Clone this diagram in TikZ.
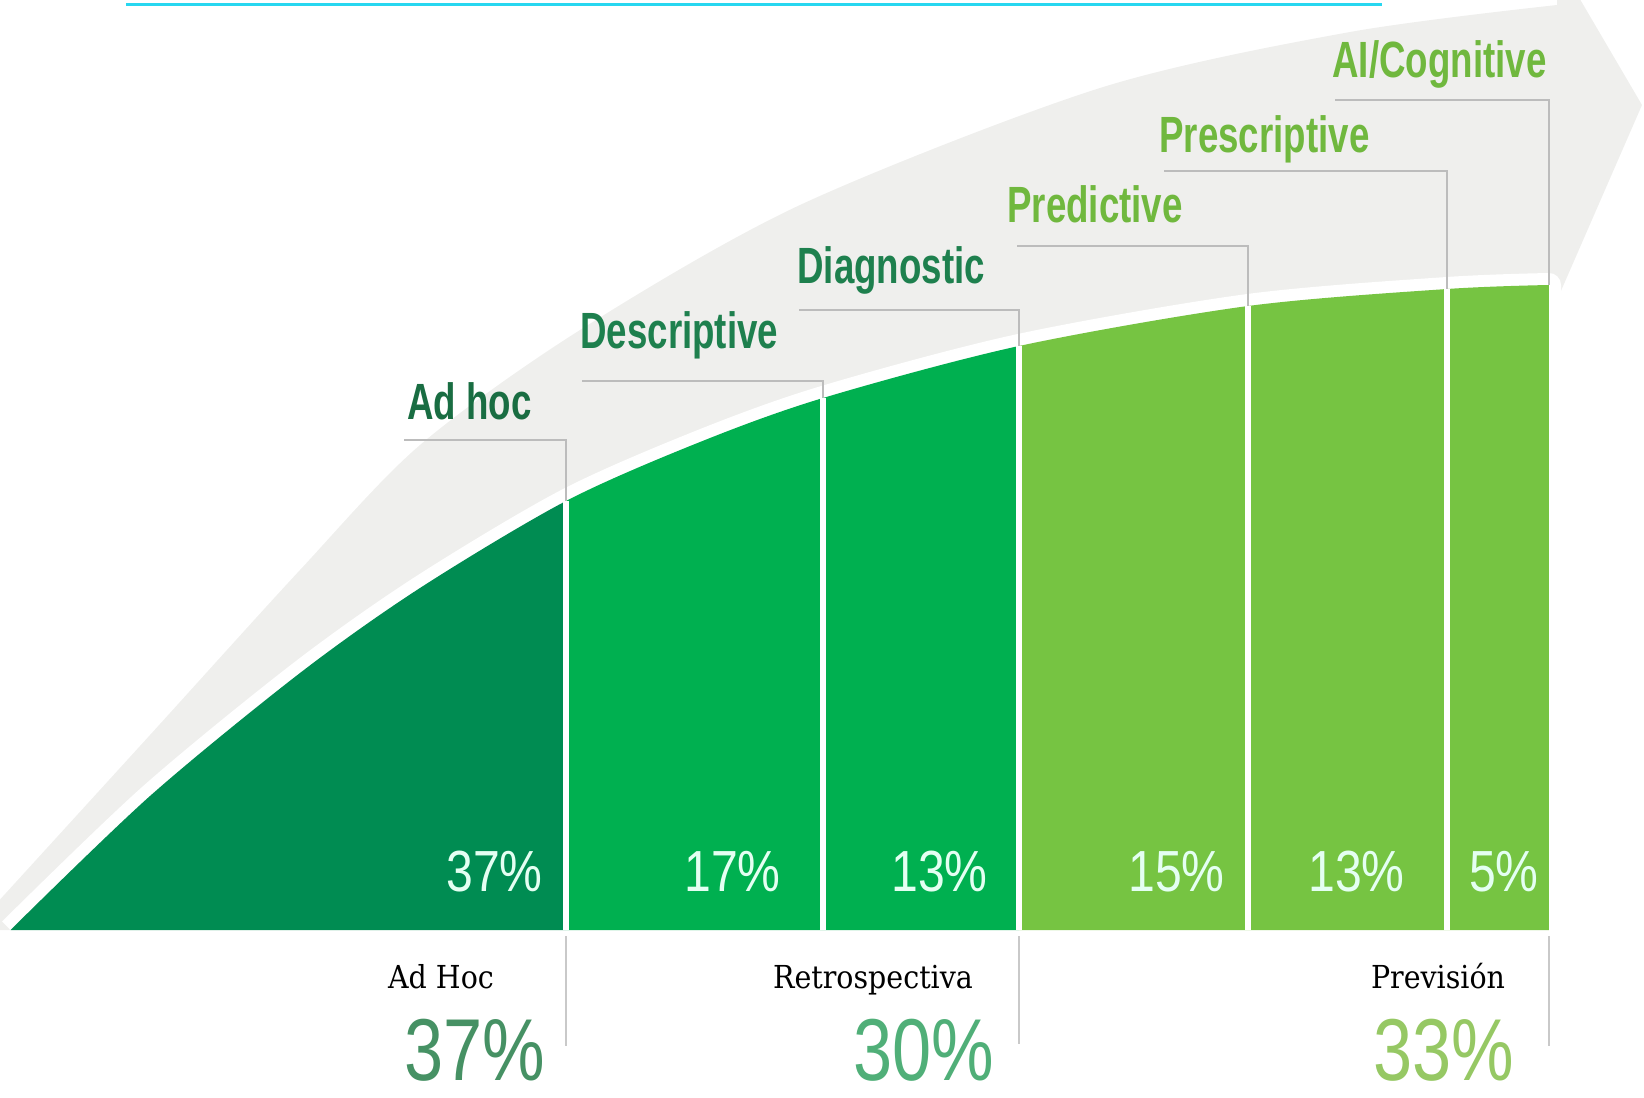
\documentclass[tikz,border=0pt]{standalone}
\usepackage{fontspec}
\newfontfamily\condfont[FakeStretch=0.72]{Liberation Sans}
\newfontfamily\pctfont[FakeStretch=0.83]{Liberation Sans}
\newfontfamily\bigfont[FakeStretch=0.8]{Liberation Sans}
\newfontfamily\slabfont[FakeStretch=0.9]{DejaVu Serif}
\definecolor{gA}{RGB}{0,140,82}
\definecolor{gB}{RGB}{0,176,80}
\definecolor{gC}{RGB}{118,196,66}
\definecolor{bandgray}{RGB}{239,239,237}
\definecolor{lblD}{RGB}{30,128,78}
\definecolor{lblL}{RGB}{112,184,62}
\definecolor{leadergray}{RGB}{188,188,188}
\definecolor{pctW}{RGB}{228,255,242}
\definecolor{cyanline}{RGB}{40,215,240}
\definecolor{bigA}{RGB}{70,145,100}
\definecolor{bigB}{RGB}{80,175,120}
\definecolor{bigC}{RGB}{150,200,100}
\begin{document}
\begin{tikzpicture}[x=0.2mm,y=-0.2mm,
  stagelbl/.style={inner sep=0pt,anchor=base west,font=\condfont\bfseries\fontsize{29}{29}\selectfont},
  pctlbl/.style={inner sep=0pt,anchor=base east,text=pctW,font=\pctfont\fontsize{33}{33}\selectfont},
  grouplbl/.style={inner sep=0pt,anchor=base,text=black,font=\slabfont\fontsize{18}{18}\selectfont},
  biglbl/.style={inner sep=0pt,anchor=base,font=\bigfont\fontsize{50}{50}\selectfont},
  leaderline/.style={draw=leadergray,line width=0.5mm},
  divider/.style={draw=white,line width=1.2mm},
  tickline/.style={draw=leadergray!80,line width=0.5mm}]
\useasboundingbox (0,0) rectangle (1644,1098);
% top cyan line
\coordinate (cy1) at (126,4);
\coordinate (cy2) at (1382,4);
\draw[cyanline,line width=0.6mm] (cy1) -- (cy2);
% grey arrow band
\fill[bandgray] plot[smooth] coordinates {(-5,905) (150,735) (300,570) (420,445) (580,330) (800,205) (1100,88) (1350,32) (1557,5)}
  -- (1557,-40) -- (1642,105) -- (1557,300) -- (1549,300) -- (1549,285)
  -- plot[smooth] coordinates {(1549,285) (1447,289) (1248,306) (1019,346) (823,398) (700,442) (566,501) (420,588) (300,673) (150,796) (10.5,930)}
  -- (-5,930) -- cycle;
% white gap
\draw[white,line width=4.8mm,line join=round] plot[smooth] coordinates {(10.5,930) (150,796) (300,673) (420,588) (566,501) (700,442) (823,398) (1019,346) (1248,306) (1447,289) (1549,285)} -- (1549,930);
% green area
\begin{scope}
\clip plot[smooth] coordinates {(10.5,930) (150,796) (300,673) (420,588) (566,501) (700,442) (823,398) (1019,346) (1248,306) (1447,289) (1549,285)} -- (1549,930) -- cycle;
\fill[gA] (0,0) rectangle (566,940);
\fill[gB] (566,0) rectangle (1019,940);
\fill[gC] (1019,0) rectangle (1549,940);
\end{scope}
% divider coordinates
\coordinate (t1) at (566,501);  \coordinate (b1) at (566,930);
\coordinate (t2) at (823,398);  \coordinate (b2) at (823,930);
\coordinate (t3) at (1019,346); \coordinate (b3) at (1019,930);
\coordinate (t4) at (1248,306); \coordinate (b4) at (1248,930);
\coordinate (t5) at (1447,289); \coordinate (b5) at (1447,930);
\coordinate (t6) at (1549,285); \coordinate (b6) at (1549,930);
\foreach \i in {1,...,5} {\draw[divider] (t\i) -- (b\i);}
% stage labels
\node[stagelbl,text=lblD!85!black] (sAd) at (407,419) {Ad hoc};
\node[stagelbl,text=lblD] (sDe) at (580,348) {Descriptive};
\node[stagelbl,text=lblD] (sDi) at (797,283) {Diagnostic};
\node[stagelbl,text=lblL] (sPr) at (1007,222) {Predictive};
\node[stagelbl,text=lblL] (sPs) at (1159,152) {Prescriptive};
\node[stagelbl,text=lblL] (sAI) at (1332,77) {AI/Cognitive};
% leader lines
\coordinate (l1) at (404,440);
\coordinate (l2) at (582,381);
\coordinate (l3) at (799,310);
\coordinate (l4) at (1017,246);
\coordinate (l5) at (1164,171);
\coordinate (l6) at (1335,100);
\foreach \i in {1,...,6} {\draw[leaderline] (l\i) -| (t\i);}
% percentages in bars
\node[pctlbl] (p1) at (543,891) {37\%};
\node[pctlbl] (p2) at (781,891) {17\%};
\node[pctlbl] (p3) at (988,891) {13\%};
\node[pctlbl] (p4) at (1225,891) {15\%};
\node[pctlbl] (p5) at (1405,891) {13\%};
\node[pctlbl] (p6) at (1539,891) {5\%};
% lower ticks
\coordinate (u1) at (566,936);  \coordinate (v1) at (566,1046);
\coordinate (u3) at (1019,936); \coordinate (v3) at (1019,1044);
\coordinate (u6) at (1549,936); \coordinate (v6) at (1549,1046);
\draw[tickline] (u1) -- (v1);
\draw[tickline] (u3) -- (v3);
\draw[tickline] (u6) -- (v6);
% group labels
\node[grouplbl] (gAd) at (441,988) {Ad Hoc};
\node[grouplbl] (gRe) at (873,988) {Retrospectiva};
\node[grouplbl] (gPv) at (1438,988) {Previsión};
\node[biglbl,text=bigA] (bA) at (475,1080) {37\%};
\node[biglbl,text=bigB] (bB) at (924,1080) {30\%};
\node[biglbl,text=bigC] (bC) at (1444,1080) {33\%};
\end{tikzpicture}
\end{document}
